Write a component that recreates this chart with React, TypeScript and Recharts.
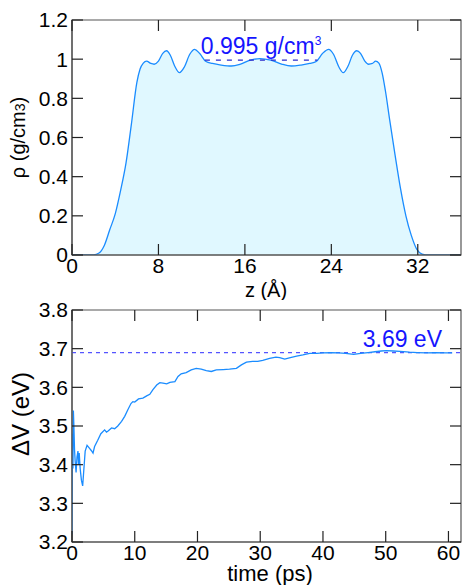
import React from 'react';
import { AreaChart, Area, LineChart, Line, XAxis, YAxis, ReferenceLine, ReferenceArea, Label } from 'recharts';

// ---- density profile (top panel) ----
const zValues = [0, 1, 2, 2.5, 3, 3.5, 4, 4.5, 5, 5.5, 6, 6.3, 6.6, 6.9, 7.3, 7.6, 8.0, 8.4, 8.75, 9.1, 9.5, 9.95, 10.4, 10.9, 11.35, 11.8, 12.4, 13.0, 13.8, 14.75, 15.6, 16.5, 17.4, 18.4, 19.4, 20.3, 21.2, 22.0, 22.6, 23.2, 23.75, 24.2, 24.7, 25.1, 25.55, 25.95, 26.35, 26.7, 27.1, 27.45, 27.8, 28.1, 28.4, 28.7, 29.0, 29.4, 29.9, 30.4, 30.9, 31.4, 31.9, 32.4, 33, 36];
const rhoValues = [0, 0, 0.001, 0.01, 0.05, 0.13, 0.21, 0.33, 0.47, 0.67, 0.88, 0.95, 0.98, 0.99, 0.978, 0.974, 0.99, 1.03, 1.043, 1.02, 0.965, 0.931, 0.96, 1.025, 1.05, 1.03, 0.988, 0.978, 0.97, 0.965, 0.975, 0.995, 1.003, 0.995, 0.975, 0.965, 0.97, 0.978, 0.988, 1.03, 1.05, 1.025, 0.96, 0.931, 0.965, 1.02, 1.043, 1.03, 0.99, 0.974, 0.978, 0.99, 0.98, 0.93, 0.84, 0.69, 0.51, 0.34, 0.2, 0.1, 0.03, 0.005, 0, 0];
const zDomain = [0, 36];
const rhoDomain = [0, 1.2];
const zTicks = [0, 8, 16, 24, 32];
const rhoTicks = [0, 0.2, 0.4, 0.6, 0.8, 1, 1.2];
const bulkDensity = 0.995;
const bulkSegmentZ = [12.3, 22.7];

// ---- vertical energy gap (bottom panel) ----
const timeValues = [0, 0.05, 0.1, 0.15, 0.22, 0.3, 0.4, 0.5, 0.65, 0.8, 0.95, 1.05, 1.15, 1.3, 1.5, 1.7, 1.9, 2.1, 2.4, 2.8, 3.1, 3.35, 3.6, 4.1, 4.6, 5.2, 5.5, 5.8, 6.3, 6.8, 7.3, 7.9, 8.4, 8.9, 9.4, 9.7, 10.0, 10.6, 11.3, 11.9, 12.4, 12.9, 13.5, 14.0, 14.5, 15.1, 15.6, 16.4, 16.9, 17.4, 18.2, 19.0, 19.8, 20.6, 21.4, 22.2, 23.0, 24.1, 25.1, 26.2, 27.0, 27.8, 28.8, 29.6, 30.4, 31.5, 32.5, 33.1, 33.9, 34.8, 35.8, 36.8, 37.9, 39.0, 40.0, 41.3, 42.5, 43.6, 44.9, 46.0, 47.2, 48.3, 49.3, 50.1, 51.2, 52.3, 53.8, 55.0, 56.5, 58.0, 59.6, 60.6];
const dvValues = [3.22, 3.40, 3.48, 3.39, 3.54, 3.50, 3.44, 3.41, 3.38, 3.42, 3.435, 3.40, 3.43, 3.39, 3.36, 3.345, 3.39, 3.435, 3.45, 3.442, 3.436, 3.43, 3.447, 3.463, 3.48, 3.49, 3.484, 3.488, 3.495, 3.493, 3.5, 3.512, 3.525, 3.542, 3.558, 3.563, 3.562, 3.57, 3.572, 3.578, 3.582, 3.594, 3.606, 3.612, 3.611, 3.609, 3.613, 3.615, 3.628, 3.635, 3.638, 3.645, 3.649, 3.647, 3.643, 3.641, 3.645, 3.646, 3.647, 3.649, 3.658, 3.665, 3.667, 3.667, 3.670, 3.675, 3.678, 3.677, 3.673, 3.677, 3.681, 3.684, 3.688, 3.688, 3.689, 3.69, 3.689, 3.688, 3.685, 3.688, 3.69, 3.692, 3.694, 3.695, 3.694, 3.693, 3.691, 3.690, 3.689, 3.690, 3.689, 3.689];
const timeDomain = [0, 62];
const dvDomain = [3.2, 3.8];
const timeTicks = [0, 10, 20, 30, 40, 50, 60];
const dvTicks = [3.2, 3.3, 3.4, 3.5, 3.6, 3.7, 3.8];
const meanGap = 3.69;

const densityData = zValues.map((z, i) => ({ z, rho: rhoValues[i] }));
const gapData = timeValues.map((t, i) => ({ t, dv: dvValues[i] }));
const bulkSegment = [
  { x: bulkSegmentZ[0], y: bulkDensity },
  { x: bulkSegmentZ[1], y: bulkDensity },
];

const FONT = '"Liberation Sans", Arial, Helvetica, sans-serif';
const LINE_BLUE = '#1a8cff';
const FILL = '#e0f8ff';
const LABEL_BLUE = '#1515ff';
const FRAME = '#555';
const TICK = '#222';
const TICK_LEN = 11;
const TICK_FONT = 21;
const axisLineStyle = { stroke: FRAME, strokeWidth: 1.2 };

// plot rectangle (chart coordinates) for both panels
const PLOT_LEFT = 72;
const PLOT_RIGHT = 461;
const PLOT_TOP = 20;

const XTick = (props: any) => {
  const { x, y, payload, top, bottom } = props;
  return (
    <g>
      <line x1={x} x2={x} y1={bottom} y2={bottom - TICK_LEN} stroke={TICK} strokeWidth={1.2} />
      <line x1={x} x2={x} y1={top} y2={top + TICK_LEN} stroke={TICK} strokeWidth={1.2} />
      <text x={x} y={y} dy="0.71em" textAnchor="middle" fontSize={TICK_FONT} fontFamily={FONT} fill="#000">
        {payload.value}
      </text>
    </g>
  );
};

const YTick = (props: any) => {
  const { x, y, payload, left, right, digits } = props;
  const txt = digits != null ? Number(payload.value).toFixed(digits) : String(payload.value);
  return (
    <g>
      <line x1={left} x2={left + TICK_LEN} y1={y} y2={y} stroke={TICK} strokeWidth={1.2} />
      <line x1={right - TICK_LEN} x2={right} y1={y} y2={y} stroke={TICK} strokeWidth={1.2} />
      <text x={x} y={y} dy="0.355em" textAnchor="end" fontSize={TICK_FONT} fontFamily={FONT} fill="#000">
        {txt}
      </text>
    </g>
  );
};

const DensityLabel = (props: any) => {
  const vb = props.viewBox || {};
  const cx = (vb.x ?? 205) + (vb.width ?? 113) / 2;
  const y = (vb.y ?? 60) - 6;
  return (
    <text x={cx} y={y} textAnchor="middle" fill={LABEL_BLUE} fontSize={23} fontFamily={FONT}>
      {bulkDensity} g/cm<tspan fontSize={12} dy={-9}>3</tspan>
    </text>
  );
};

const GapLabel = (props: any) => {
  const vb = props.viewBox || {};
  const x = (vb.x ?? 72) + (vb.width ?? 389) - 19;
  const y = (vb.y ?? 62) - 6;
  return (
    <text x={x} y={y} textAnchor="end" fill={LABEL_BLUE} fontSize={23} fontFamily={FONT}>
      {meanGap.toFixed(2)} eV
    </text>
  );
};

export default function App() {
  return (
    <div style={{ position: 'absolute', left: 0, top: 0, width: 462, height: 585, background: '#fff', fontFamily: FONT }}>
      <div style={{ position: 'absolute', left: 0, top: 0 }}>
        <AreaChart width={462} height={300} data={densityData} margin={{ top: PLOT_TOP, right: 462 - PLOT_RIGHT, bottom: 0, left: 0 }}>
          <XAxis dataKey="z" type="number" domain={zDomain} ticks={zTicks} height={45} tickSize={0} tickMargin={3}
            tick={<XTick top={PLOT_TOP} bottom={255} />} axisLine={axisLineStyle} tickLine={false} allowDataOverflow>
            <Label content={() => (
              <text x={266} y={297} textAnchor="middle" fontSize={20} fontFamily={FONT} fill="#000">z (Å)</text>
            )} />
          </XAxis>
          <YAxis type="number" domain={rhoDomain} ticks={rhoTicks} width={PLOT_LEFT} tickSize={0} tickMargin={4}
            tick={<YTick left={PLOT_LEFT} right={PLOT_RIGHT} />} axisLine={axisLineStyle} tickLine={false} allowDataOverflow>
            <Label content={() => (
              <text transform="translate(25,137.5) rotate(-90)" textAnchor="middle" fontSize={20} fontFamily={FONT} fill="#000">
                ρ (g/cm<tspan fontSize={14}>3</tspan>)
              </text>
            )} />
          </YAxis>
          <Area type="monotone" dataKey="rho" stroke={LINE_BLUE} strokeWidth={1.3} fill={FILL} fillOpacity={1} isAnimationActive={false} dot={false} />
          <ReferenceLine segment={bulkSegment} stroke="#2a2acc" strokeWidth={1.3} strokeDasharray="5 6" label={<DensityLabel />} />
          <ReferenceArea x1={zDomain[0]} x2={zDomain[1]} y1={rhoDomain[0]} y2={rhoDomain[1]} fill="none" fillOpacity={0} stroke={FRAME} strokeWidth={1.2} />
        </AreaChart>
      </div>
      <div style={{ position: 'absolute', left: 0, top: 290 }}>
        <LineChart width={462} height={295} data={gapData} margin={{ top: PLOT_TOP, right: 462 - PLOT_RIGHT, bottom: 0, left: 0 }}>
          <XAxis dataKey="t" type="number" domain={timeDomain} ticks={timeTicks} height={43} tickSize={0} tickMargin={3}
            tick={<XTick top={PLOT_TOP} bottom={252} />} axisLine={axisLineStyle} tickLine={false} allowDataOverflow>
            <Label content={() => (
              <text x={270} y={291} textAnchor="middle" fontSize={22} fontFamily={FONT} fill="#000">time (ps)</text>
            )} />
          </XAxis>
          <YAxis type="number" domain={dvDomain} ticks={dvTicks} width={PLOT_LEFT} tickSize={0} tickMargin={4}
            tick={<YTick left={PLOT_LEFT} right={PLOT_RIGHT} digits={1} />} axisLine={axisLineStyle} tickLine={false} allowDataOverflow>
            <Label content={() => (
              <text transform="translate(29,124) rotate(-90)" textAnchor="middle" fontSize={24} fontFamily={FONT} fill="#000">
                ΔV (eV)
              </text>
            )} />
          </YAxis>
          <ReferenceLine y={meanGap} stroke="#5555ff" strokeWidth={1.3} strokeDasharray="4 4" label={<GapLabel />} />
          <Line type="linear" dataKey="dv" stroke={LINE_BLUE} strokeWidth={1.3} dot={false} isAnimationActive={false} />
          <ReferenceArea x1={timeDomain[0]} x2={timeDomain[1]} y1={dvDomain[0]} y2={dvDomain[1]} fill="none" fillOpacity={0} stroke={FRAME} strokeWidth={1.2} />
        </LineChart>
      </div>
    </div>
  );
}
